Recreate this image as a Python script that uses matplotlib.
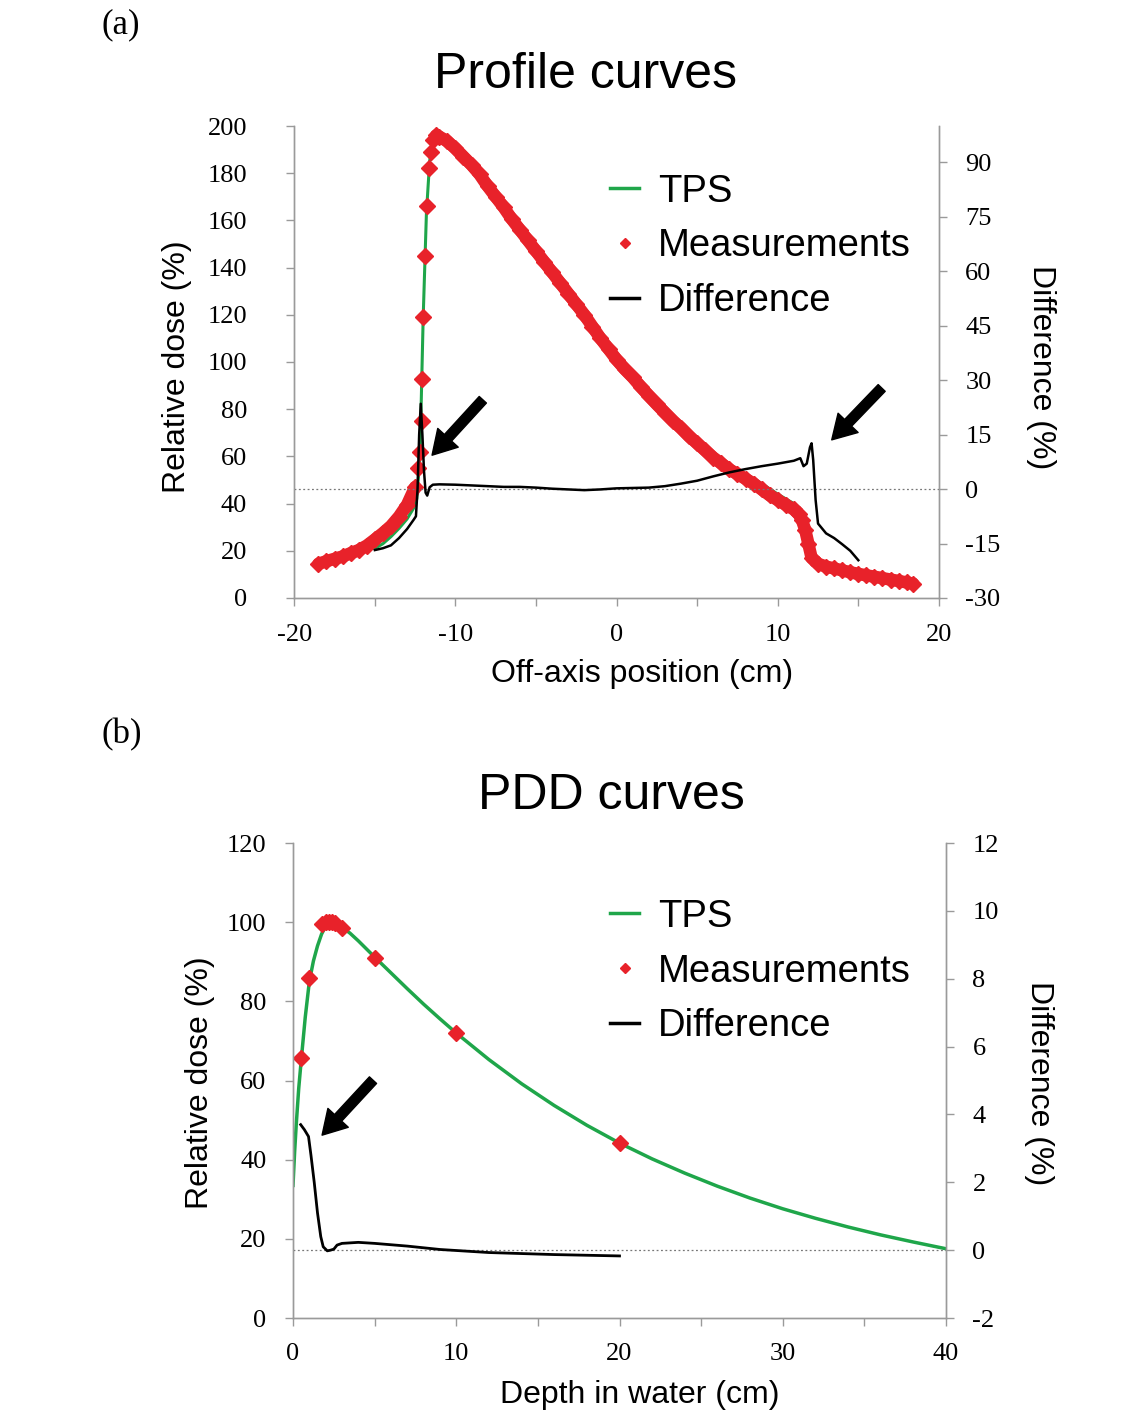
import numpy as np
import matplotlib.pyplot as plt
from matplotlib.lines import Line2D
from matplotlib.ticker import MultipleLocator, FuncFormatter

plt.rcParams['axes.unicode_minus'] = False

SANS = 'Liberation Sans'
SERIF = 'Liberation Serif'
GREEN = '#1fa64a'
RED = '#e8222a'
GRAY = '#9a9a9a'

# ---- (a) profile data ----
meas_x = [-18.5, -18.0, -17.5, -17.0, -16.5, -16.0, -15.5, -15.0, -14.5, -14.0,
          -13.5, -13.0, -12.5, -12.3, -12.2, -12.1, -12.05, -12.0, -11.9, -11.77,
          -11.64, -11.54, -11.4, -11.2, -11.0, -10.5, -10.0, -9.5, -9.0, -8.5,
          -8.0, -7.5, -7.0, -6.5, -6.0, -5.5, -5.0, -4.5, -4.0, -3.5,
          -3.0, -2.5, -2.0, -1.5, -1.0, -0.5, 0.0, 0.5, 1.0, 1.5,
          2.0, 2.5, 3.0, 3.5, 4.0, 4.5, 5.0, 5.5, 6.0, 6.5,
          7.0, 7.5, 8.0, 8.5, 9.0, 9.5, 10.0, 10.5, 11.0, 11.3,
          11.5, 11.7, 11.9, 12.1, 12.5, 13.0, 13.5, 14.0, 14.5, 15.0,
          15.5, 16.0, 16.5, 17.0, 17.5, 18.0, 18.4]
meas_dose = [14.5, 15.6, 16.6, 17.6, 19.0, 20.3, 22.2, 24.8, 27.5, 30.5,
             34.5, 39.5, 47.0, 55.0, 62.0, 75.0, 93.0, 119.0, 145.0, 166.0,
             182.0, 189.0, 194.0, 196.0, 195.5, 193.5, 190.5, 187.0, 183.5, 179.5,
             174.5, 170.0, 165.5, 160.5, 156.0, 151.5, 147.0, 142.5, 138.0, 133.5,
             129.0, 124.5, 120.0, 115.0, 110.0, 105.5, 101.0, 97.0, 93.5, 89.5,
             85.7, 82.0, 78.5, 75.0, 72.0, 68.5, 65.5, 62.5, 59.5, 57.0,
             54.5, 52.5, 50.5, 48.5, 46.0, 43.5, 41.5, 39.5, 37.5, 35.5,
             33.0, 29.0, 23.0, 17.0, 14.5, 13.3, 12.5, 11.7, 10.9, 10.2,
             9.6, 9.0, 8.4, 7.8, 7.2, 6.6, 6.1]

tps_x = [-15.0, -14.5, -14.0, -13.5, -13.0, -12.6, -12.4, -12.2, -12.0, -11.8,
         -11.6, -11.4, -11.2, -11.0, -10.5, -10.0, -9.5, -9.0, -8.0, -7.0,
         -6.0, -5.0, -4.0, -3.0, -2.0, -1.0, 0.0, 1.0, 2.0, 3.0,
         4.0, 5.0, 6.0, 7.0, 8.0, 9.0, 10.0, 11.0, 11.3, 11.5,
         11.7, 11.9, 12.1, 12.5, 13.0, 14.0, 15.0]
tps_dose = [21.0, 23.0, 26.0, 29.5, 33.5, 38.0, 42.0, 60.0, 119.0, 163.0,
            185.0, 194.5, 197.5, 197.5, 195.5, 192.5, 189.0, 185.0, 175.5, 166.5,
            157.0, 147.5, 138.5, 129.5, 120.5, 110.5, 101.5, 94.0, 86.5, 79.5,
            73.0, 66.5, 60.5, 55.5, 52.5, 48.5, 44.0, 40.0, 38.5, 34.0,
            27.0, 20.0, 15.0, 13.5, 12.5, 10.8, 9.4]

diff_x = [-15.0, -14.5, -14.0, -13.5, -13.0, -12.6, -12.45, -12.35, -12.25, -12.15,
          -12.05, -11.95, -11.85, -11.75, -11.6, -11.4, -11.0, -10.0, -9.0, -8.0,
          -7.0, -6.0, -5.0, -4.0, -3.0, -2.0, -1.0, 0.0, 1.0, 2.0,
          3.0, 4.0, 5.0, 6.0, 7.0, 8.0, 9.0, 10.0, 11.0, 11.4,
          11.6, 11.8, 12.0, 12.1, 12.2, 12.35, 12.5, 13.0, 13.5, 14.0,
          14.5, 15.0]
diff_val = [-16.8, -16.3, -15.5, -13.5, -11.0, -8.5, -7.5, 0.0, 15.0, 23.5,
            15.0, 5.0, -1.0, -1.8, 0.5, 1.2, 1.3, 1.2, 1.0, 0.8,
            0.6, 0.6, 0.4, 0.1, -0.1, -0.3, -0.1, 0.2, 0.3, 0.4,
            0.8, 1.5, 2.3, 3.5, 4.6, 5.5, 6.3, 7.0, 7.8, 8.5,
            6.3, 7.0, 11.5, 12.6, 8.0, -3.0, -9.5, -12.2, -13.5, -15.2,
            -17.0, -19.6]

# ---- (b) PDD data ----
pdd_depth = [0.0, 0.1, 0.2, 0.35, 0.5, 0.75, 1.0, 1.25, 1.5, 1.75,
             2.0, 2.25, 2.5, 2.75, 3.0, 3.5, 4.0, 5.0, 6.0, 7.0,
             8.0, 9.0, 10.0, 12.0, 14.0, 16.0, 18.0, 20.0, 22.0, 24.0,
             26.0, 28.0, 30.0, 32.0, 34.0, 36.0, 38.0, 40.0]
pdd_tps = [33.5, 42.0, 49.0, 58.0, 65.0, 76.0, 85.0, 90.2, 94.0, 97.0,
           99.0, 99.9, 100.0, 99.6, 98.8, 97.2, 95.3, 91.2, 87.2, 83.2,
           79.3, 75.6, 72.0, 65.3, 59.2, 53.7, 48.7, 44.2, 40.2, 36.6,
           33.3, 30.3, 27.6, 25.2, 23.0, 21.0, 19.2, 17.5]

pdd_meas_depth = [0.5, 1.0, 1.8, 2.0, 2.2, 2.4, 2.6, 3.0, 5.0, 10.0, 20.0]
pdd_meas = [65.7, 85.8, 99.5, 100.0, 100.0, 100.0, 99.8, 98.6, 91.0, 72.0, 44.2]

pdd_diff_depth = [0.47, 0.7, 0.95, 1.1, 1.3, 1.5, 1.7, 1.85, 2.1, 2.3,
                  2.5, 2.7, 3.0, 4.0, 5.0, 7.0, 9.0, 12.0, 16.0, 20.0]
pdd_diff = [3.7, 3.55, 3.35, 2.8, 2.0, 1.1, 0.4, 0.1, -0.02, 0.0,
            0.03, 0.15, 0.2, 0.23, 0.2, 0.12, 0.02, -0.07, -0.13, -0.17]


def style_axes(ax, axr, left_pad, bottom_pad):
    for a in (ax, axr):
        a.spines['top'].set_visible(False)
        for s in ('left', 'right', 'bottom'):
            a.spines[s].set_color(GRAY)
            a.spines[s].set_linewidth(1.0)
        a.tick_params(direction='out', length=6, color=GRAY, width=1.0,
                      labelsize=19)
    ax.tick_params(axis='y', pad=left_pad)
    ax.tick_params(axis='x', pad=bottom_pad)
    axr.tick_params(axis='y', pad=13)
    for a in (ax, axr):
        for lab in a.get_xticklabels() + a.get_yticklabels():
            lab.set_family(SERIF)


fig = plt.figure(figsize=(11.45, 14.11), dpi=100)

# ===================== (a) =====================
ax1 = fig.add_axes([0.257, 0.5762, 0.563, 0.3345])
ax1.plot(tps_x, tps_dose, color=GREEN, lw=2.2, zorder=2)
mx = np.array(meas_x)
my = np.array(meas_dose)
left = mx <= -12.5
right = mx >= -11.2
ax1.plot(mx[left], my[left], color=RED, lw=9, solid_capstyle='round', zorder=3)
ax1.plot(mx[right], my[right], color=RED, lw=9, solid_capstyle='round', zorder=3)
ax1.plot(mx, my, ls='none', marker='D', ms=8, color=RED, mec=RED, zorder=3)
ax1.set_xlim(-20, 20)
ax1.set_ylim(0, 200)
ax1.xaxis.set_major_locator(MultipleLocator(5))
ax1.xaxis.set_major_formatter(FuncFormatter(lambda v, p: '%d' % v if v % 10 == 0 else ''))
ax1.yaxis.set_major_locator(MultipleLocator(20))

ax1r = ax1.twinx()
ax1r.plot(diff_x, diff_val, color='black', lw=1.8, zorder=4)
ax1r.axhline(0, color='#777777', lw=0.9, ls=(0, (1.5, 2)), zorder=1)
ax1r.set_ylim(-30, 100)
ax1r.set_yticks(np.arange(-30, 91, 15))
style_axes(ax1, ax1r, 28, 13)

ax1.set_xlabel('Off-axis position (cm)', family=SANS, fontsize=23)
ax1.xaxis.set_label_coords(0.539, -0.129)
ax1.set_ylabel('Relative dose (%)', family=SANS, fontsize=23)
ax1.yaxis.set_label_coords(-0.158, 0.49)
ax1r.set_ylabel('Difference (%)', family=SANS, fontsize=23, rotation=270, va='bottom')
ax1r.yaxis.set_label_coords(1.135, 0.49)

arrow = dict(facecolor='black', edgecolor='black', width=7, headwidth=20,
             headlength=17, shrink=0)
ax1.annotate('', xy=(-11.45, 60.5), xytext=(-8.3, 84), arrowprops=arrow)
ax1.annotate('', xy=(13.35, 67), xytext=(16.45, 89), arrowprops=arrow)

handles = [Line2D([], [], color=GREEN, lw=2.5),
           Line2D([], [], ls='none', marker='D', ms=5.5, color=RED),
           Line2D([], [], color='black', lw=2.5)]
labels = ['TPS', 'Measurements', 'Difference']
leg_kw = dict(loc='upper left', bbox_transform=fig.transFigure, frameon=False,
              prop={'family': SANS, 'size': 27.5}, handlelength=0.75,
              handletextpad=0.5, labelspacing=0.49, borderpad=0, borderaxespad=0)
ax1r.legend(handles, labels, bbox_to_anchor=(0.533, 0.877), **leg_kw)

fig.text(0.511, 0.9376, 'Profile curves', family=SANS, fontsize=36,
         ha='center', va='baseline')
fig.text(0.089, 0.994, '(a)', family=SERIF, fontsize=25, ha='left', va='top')

# ===================== (b) =====================
ax2 = fig.add_axes([0.2559, 0.0659, 0.5703, 0.3366])
ax2.plot(pdd_depth, pdd_tps, color=GREEN, lw=2.5, zorder=2)
ax2.plot(pdd_meas_depth, pdd_meas, ls='none', marker='D', ms=8.5, color=RED,
         zorder=3)
ax2.set_xlim(0, 40)
ax2.set_ylim(0, 120)
ax2.xaxis.set_major_locator(MultipleLocator(5))
ax2.xaxis.set_major_formatter(FuncFormatter(lambda v, p: '%d' % v if v % 10 == 0 else ''))
ax2.yaxis.set_major_locator(MultipleLocator(20))

ax2r = ax2.twinx()
ax2r.plot(pdd_diff_depth, pdd_diff, color='black', lw=2.0, zorder=4)
ax2r.axhline(0, color='#777777', lw=0.9, ls=(0, (1.5, 2)), zorder=1)
ax2r.set_ylim(-2, 12)
ax2r.set_yticks(np.arange(-2, 13, 2))
style_axes(ax2, ax2r, 13, 12)

ax2.set_xlabel('Depth in water (cm)', family=SANS, fontsize=23)
ax2.xaxis.set_label_coords(0.531, -0.13)
ax2.set_ylabel('Relative dose (%)', family=SANS, fontsize=23)
ax2.yaxis.set_label_coords(-0.119, 0.495)
ax2r.set_ylabel('Difference (%)', family=SANS, fontsize=23, rotation=270, va='bottom')
ax2r.yaxis.set_label_coords(1.119, 0.495)

ax2.annotate('', xy=(1.78, 46.2), xytext=(4.9, 60.1), arrowprops=arrow)
ax2r.legend(handles, labels, bbox_to_anchor=(0.533, 0.363), **leg_kw)

fig.text(0.534, 0.4267, 'PDD curves', family=SANS, fontsize=36,
         ha='center', va='baseline')
fig.text(0.089, 0.491, '(b)', family=SERIF, fontsize=25, ha='left', va='top')

fig.savefig('out.png', dpi=100)
